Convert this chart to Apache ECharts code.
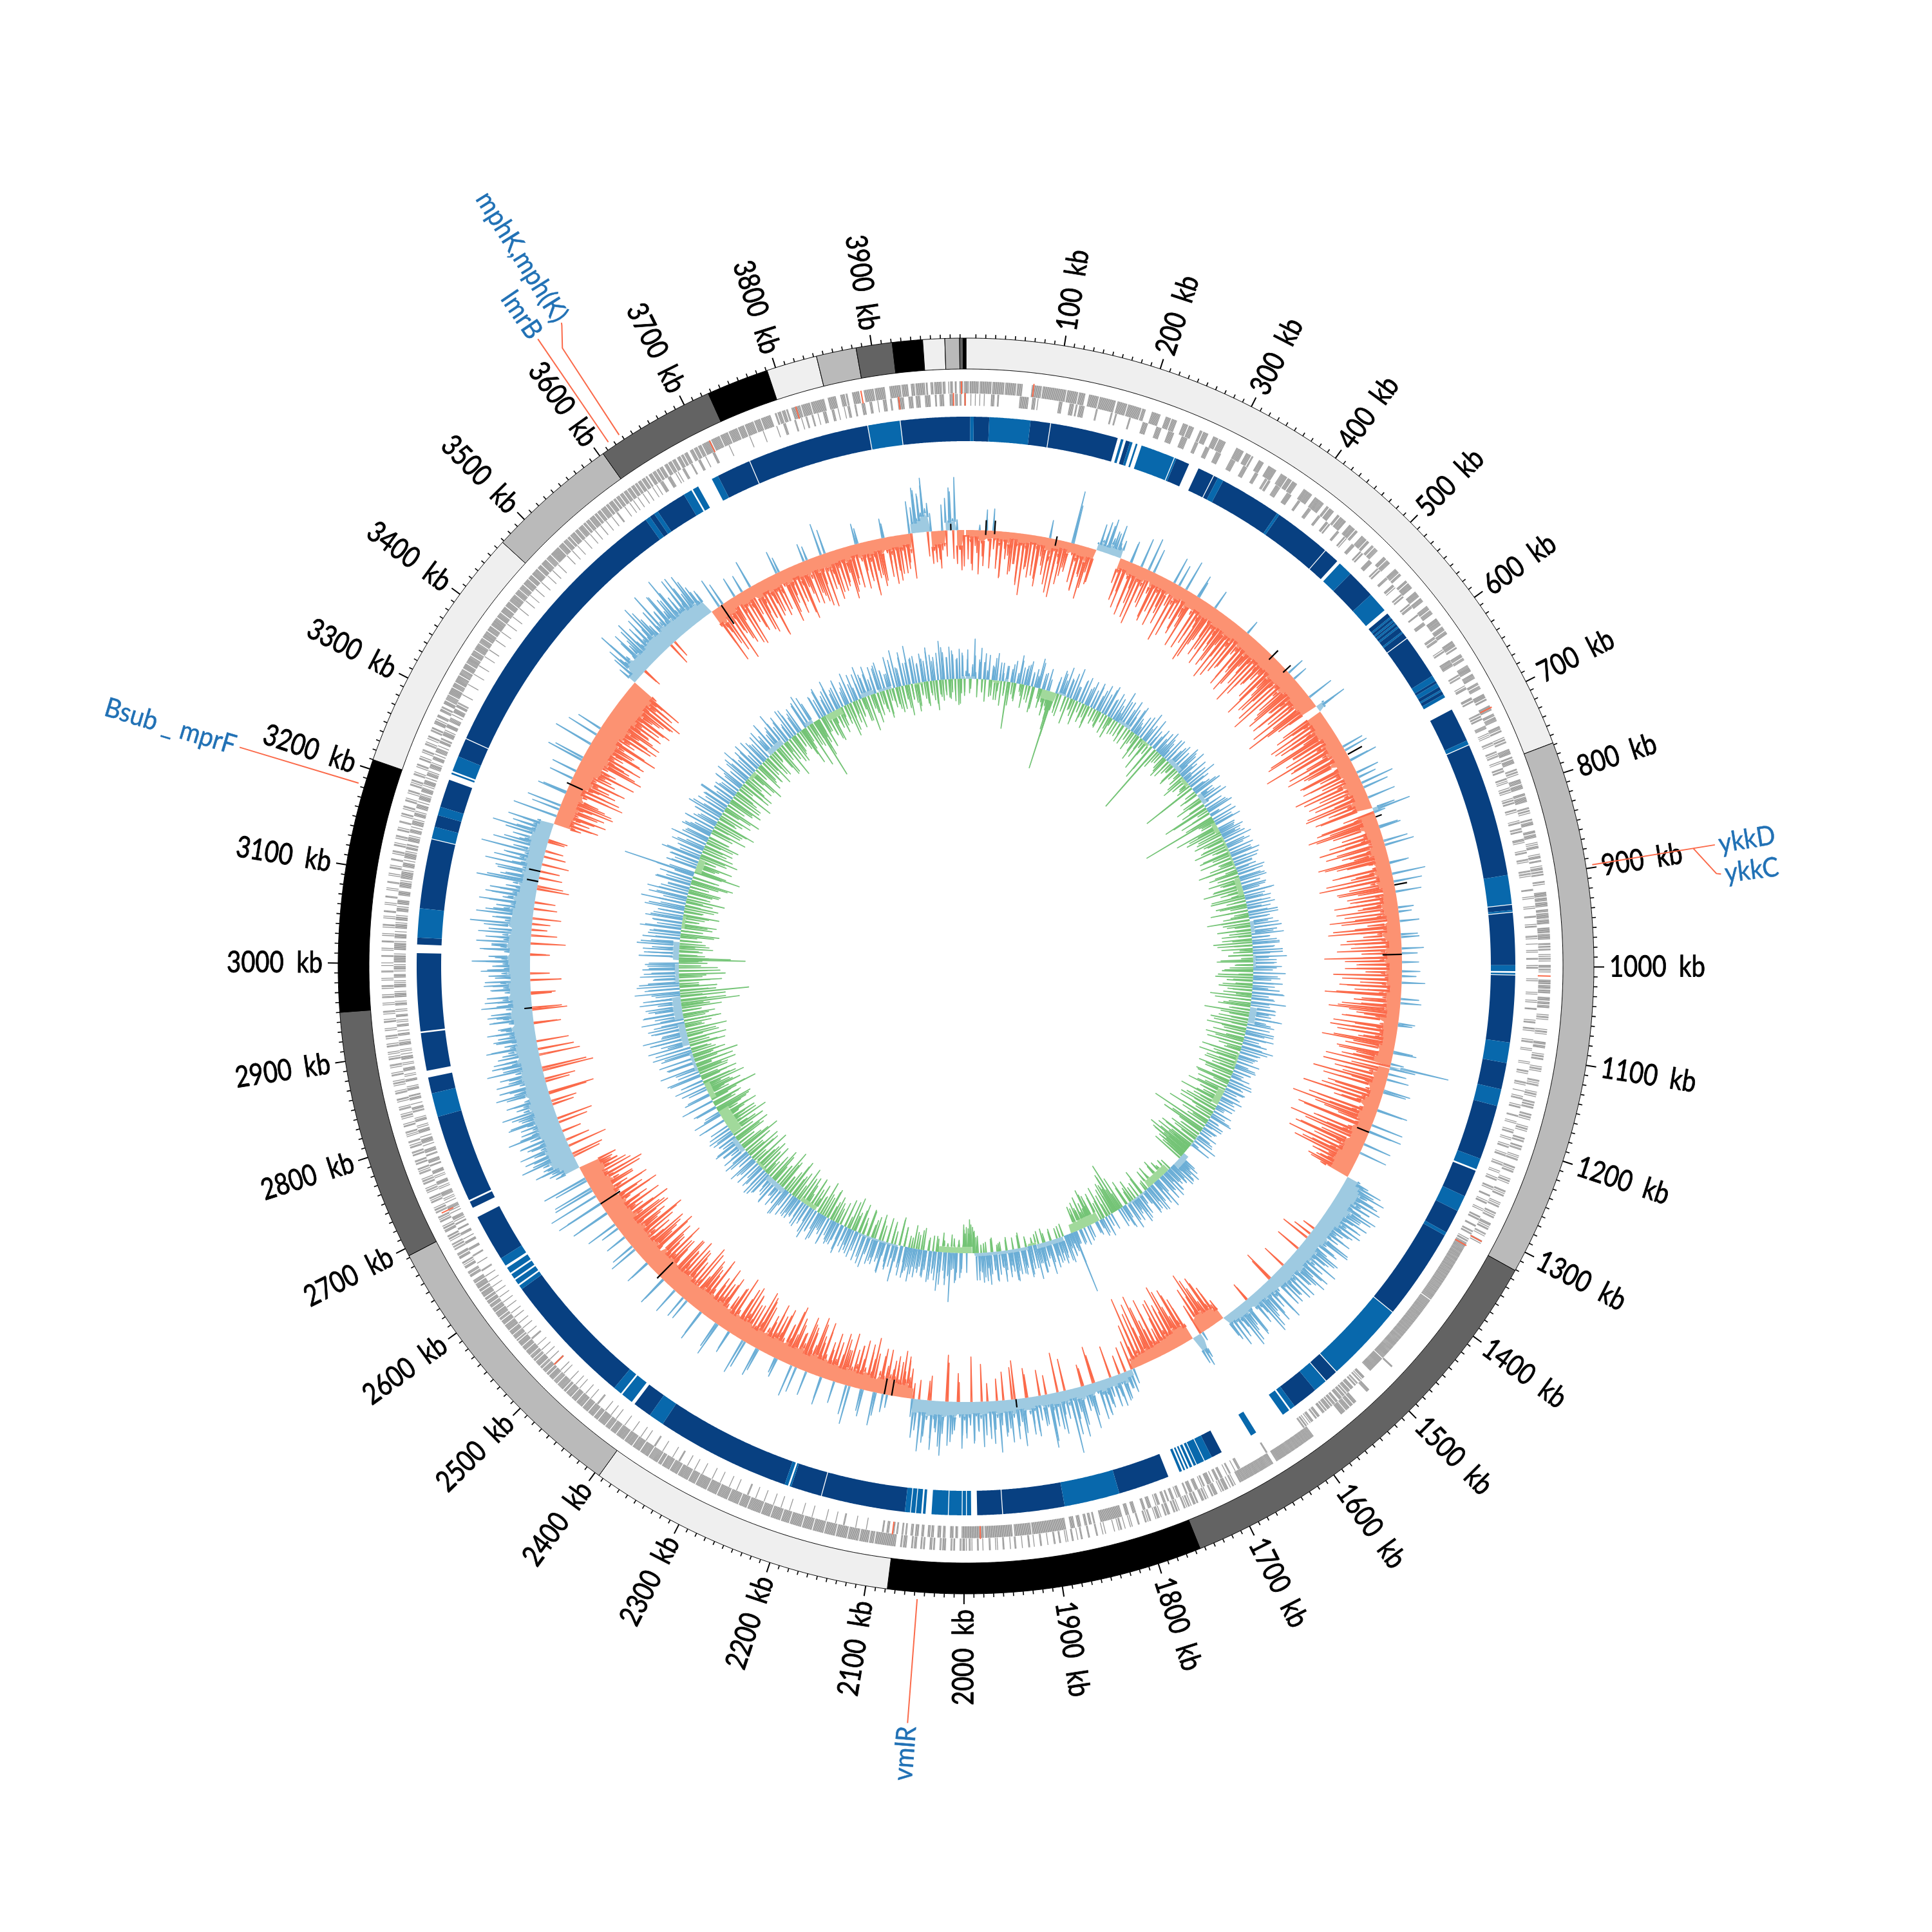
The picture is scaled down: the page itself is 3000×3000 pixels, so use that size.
<!DOCTYPE html>
<html><head><meta charset="utf-8"><style>html,body{margin:0;background:#fff}#c{width:3000px;height:3000px}</style>
<script src="https://cdn.jsdelivr.net/npm/echarts@6/dist/echarts.min.js"></script></head><body><div id="c"></div>
<script>
const genomeKb=3996;
const contigStart=[0,768,1321,1755,2078,2395,2692,2950,3210,3468,3604,3727,3791,3843,3884,3921,3952,3974.5,3989.5,3993];
const contigEnd=[768,1321,1755,2078,2395,2692,2950,3210,3468,3604,3727,3791,3843,3884,3921,3952,3974.5,3989.5,3993,3996];
const contigShade=['#efefef','#bababa','#636363','#000000','#efefef','#bababa','#636363','#000000','#efefef','#bababa','#636363','#000000','#efefef','#bababa','#636363','#000000','#efefef','#bababa','#636363','#000000'];
const majorTicks=[100,200,300,400,500,600,700,800,900,1000,1100,1200,1300,1400,1500,1600,1700,1800,1900,2000,2100,2200,2300,2400,2500,2600,2700,2800,2900,3000,3100,3200,3300,3400,3500,3600,3700,3800,3900];
// Gene occupancy, one string per 100 kb, one character per kb: 1 = a gene bar.
const genesOuter=[
"1110111111111101111111111111011111111111110111111111111011111100000000001111111111101111111111111111",
"1111111111011111111111101111111000011111111111011111111111111111100111111111110111111111111111011110",
"0000001111111111000000111111011111100000001111110111111000000011101111110000001111110111111110000000",
"0000001111111110001111110110000000111111000000111111111100000011111111011111011111100000000011111111",
"1110000111111111111000011101111110000011101111111100000111111110111000000111111101110000111011111000",
"0000001111011111000000001111110111000000011101111111000001111111001111100000011111011111000000111111",
"1110011111011110000000001111111011000000011110111000000111111110001111110000011101111000000111110110",
"0000011111100001110111110000001111011000000101101100000001111110001101111100000011011010000011111011",
"1110000011101111110000001101101000000110111100000011101111000001010111000000101110011000010111011011",
"0000001101000000001111101111011111000111011111101111100001111110111111000011011011000010101101000011",
"1011010000000011111011110111100001111011101110000000101101000000000010110100000000111011100000010110",
"1100000001011010000000001101011000000101101000001101101100000011011010000000101101000000011011000011",
"0110000001010110000000110101100000001011010000000011010110000000101011000000110101100000011101011000",
"0110100000110100000000000000000000000000000000000000000000000000000000000000000000000000000000000000",
"0000000000000000000000000000000000000000000000000000000000000000000000000000001100000000000000000000",
"0000000000000011110000000000000001111011110111110111111000000000000000000000000000000000000001111111",
"1111111111111111111111111111111111111111110000111111111111111111111111111111111111111111000001011001",
"0011110110100001111011000010110111000011011100101101011000001011011000011101100001011101000001101011",
"0000001100000010100000100011010000100000000010010000011000000011000000110001000011000010100000110000",
"1100000010000001100000010000110000001000000110000100000011000001010000011000000100001100000101100101",
"1101100000110110000011110110000011011100000110110000111011000001111011000001111111111111111111111101",
"1111011111111110111111111111011111111111101111111111110111111111111011111111111011111111111110111111",
"1110111111111110111111111101111111111111110111111111011111111111101111111111110111111111110111111111",
"1111011111111011111111111101111111110111111111011110111111111110111111111101111111110111111111101111",
"1111110111111101111110111111111011111011111110111111101111111101111110111111101110111111110111110111",
"1110111011111011101111110111011110111111011111011111101101111101111101111111011111011101111110111110",
"1111011110111011111101110111111011110000111011100001110101100001110111000011011011000101101100001110",
"1101000011010110000110110100000110101100000101101000011011010000011010110000110110000011011000011010",
"0110000010101100000110100000101101000011010000010110000011010000010110100000110100000101100000110100",
"1010000011010000010110000010100000011010000010110000001010000011010000001011000001010000001100000100",
"1000000110000010100000011000001010000001011000000101000011000000101000001100000010100000110000001010",
"0000110100000110000010110000011010000101100000110100000110000010110000101100000110100000101100000110",
"1011000001101000001011000001101000010110000011010001011000001101100001111010011100001110110001111011",
"1111011111111011111011111111011111110111111011111111101111110111111110111111011111111011111101111111",
"1110111111011111110111111011111111101111110111111011111110111110111111110111110111111101111110111111",
"1111101111110111110111011111101111011111101110111101111110111011110111111011101111101110111101111011",
"1101111011110111011110111101100111101111011101111001111011110111100111101110111100011110111101111011",
"1111111101111111111011111111101111111111011111110111111111101111111011111111111000001101111011110110",
"0001111111111011111111110111111111111111000011111111100000111110110000011111111000001111111111101111",
"1111111000001111111111110111111100011110111111111101100011101111111101110001011100110001111011"];
const genesInner=[
"0000010000100001000010000000111100011000000000000000000000001111111111000011110010000000000000000000",
"0000111100000000111110011001111110000000000000110000000000000001100011000000000000001100000000000000",
"1111110000000000111111000000001111111000000000111111100000000011110000000001111100000000111111000000",
"0000001111110000000000111110000000000111100000000011101110000000111111000000000111111000000000111000",
"0000000011110000000000111000000001110110000000000111000000011010000000011110000000011011000000000111",
"1100000000110110000000001110000000011101000000000110110000000001101110000000001100000000011110000000",
"0000000001110111000000000010110000000000111111110000000000011011000000000101110000000000111011000000",
"0000000011011011000000011110000010101000000110100000001101011000001010000011011000000011010100000101",
"1010000001011011000000110100000000010110000011011000000011101000000001011000000110100000000011011010",
"0000000000000110000001010000000010100000000110000000101100000000011010000010000001010000001100000010",
"1100000000000101000000000000101000000101000000110000000000010110000011010000000001011000000101000000",
"0000001010000000110100000000011010000001000001011000000101100000000110000010100000001011000001010000",
"0101100000010110000000101100000010100000101100000001101000000110000010110000001010000001101100000011",
"0000011011000001011011111111111111111111111111111111111111111111111111111111111111111111111111101111",
"1111111111111111111111111111111111111111111111111111111111111111111111111111111011111111111111111110",
"0000000011101011001101100111101111011011101111001110111011011110110111000011101100011101001011011000",
"0000000000000000000000000000000000000000000001100000000000000000000000000000000011100010000011001000",
"0011100111000100111110001101000011110001111001100000011101000111000110011100001110100000111100011100",
"0000001111000011110000111111111111111111111111100000011001110011100001111000111110000011111111111111",
"1111111111111111111111110111111111111111111100111111111111111111111111111111101111111111111111111111",
"1110000111001111000001110011110000111011100001110001111001110000110011000011001100001110001100000000",
"0000000001000000000001000000000000110000000010000000000100000000000000010000000000100000000000000100",
"0000000100000000100000000001000000000100000000110000000000001000000001000000000010000000001000000000",
"0010000000001000000001000000000110000000100000000000010000000001100000000001000000100000000001000000",
"0000100000000000100000010000000100000000001100000000100000001000000001000001000000010000000001000010",
"0000000110000001000000100000010000001000000001100000010000000100000010000000100000100000001000000100",
"0000100000010000001000000100000010000001100000000100000000110000001110000011100010000111000011000011",
"0010111100001001011110000100101001111100001010011110000101001111000001100111100001100111100001001111",
"1001000011110010100001110100000011011100010000111011000001110100000111000101000111100010100011110010",
"0101000011110100000111001000011100101000111000101000011101000011111010000111101010001111000101111010",
"0111111110100001111111101000111110010001111101001111010000111101001111100000111110000111111010011111",
"1110100011111001001111110100111011000111110100011110010011111010001111010001111100100111110100111110",
"0101111100100111101000111110100011110010011111001000111011000111110100011110001111100010011111001110",
"1100000000010000000000001000000000000100000000001000000000001000000001000000000000100000000001000000",
"0000100000000010000000000010000000000100000001000000001000000000100000000010000000100000000100000000",
"0000010000000100000001000000000100000000100000010000000100000001000000010000001100000000010000001000",
"0100000100000010000010000001000010000111100000011110000001001000001110000000011000000011100000010000",
"0000111000000000000000001000000000000000000000000100000000000000010000000000000001000000011100000000",
"0011000000100001100000110000010000011110000001110000100000010001110000011000000111100000111000000100",
"0001111000011000000111111100000111110001111100000111111000001100011111000000111100111001100011"];
const hitGenes=[[74,900],[708,900],[1010,898],[1311,898],[1323,880],[1982,880],[2080,880],[2508,880],[2717,890],[3707,898],[3808,898],[3881,898],[3921,880],[3982,880],[3991,898],[3995,880]];
const ringDark=[[3698,3738],[3739,3881],[3920,3996],[0,5],[9,27],[75,98],[99,178],[188,193],[250,266],[278,297],[298,303],[310,383],[386,453],[454,472],[493,527],[556,561],[563,566],[568,570],[572,575],[577,583],[585,592],[593,645],[652,655],[660,664],[666,670],[690,730],[736,893],[928,934],[937,998],[1010,1088],[1112,1143],[1163,1227],[1242,1274],[1293,1321],[1325,1432],[1528,1543],[1560,1590],[1690,1703],[1758,1818],[1883,1955],[1956,1985],[2069,2167],[2168,2204],[2212,2370],[2388,2410],[2440,2597],[2640,2695],[2707,2715],[2717,2820],[2848,2867],[2875,2919],[2921,3012],[3022,3030],[3064,3145],[3160,3174],[3184,3217],[3246,3268],[3269,3600],[3606,3612],[3617,3653]];
const ringMid=[[5,9],[27,75],[182,185],[193,196],[200,202],[207,247],[248,250],[303,310],[383,386],[476,493],[527,551],[561,563],[566,568],[570,572],[575,577],[583,585],[645,652],[655,660],[664,666],[670,674],[730,735],[893,927],[934,936],[998,1005],[1007,1009],[1088,1112],[1143,1163],[1227,1240],[1274,1293],[1321,1325],[1433,1527],[1544,1560],[1590,1596],[1598,1607],[1644,1651],[1703,1712],[1713,1722],[1723,1726],[1728,1731],[1733,1735],[1737,1739],[1741,1744],[1818,1883],[1992,1997],[1998,2002],[2003,2018],[2019,2038],[2045,2048],[2050,2056],[2057,2062],[2063,2069],[2204,2206],[2208,2212],[2370,2388],[2414,2428],[2430,2440],[2597,2602],[2604,2610],[2612,2618],[2620,2627],[2630,2640],[2820,2848],[3030,3064],[3146,3160],[3174,3184],[3224,3226],[3228,3246],[3600,3606],[3612,3617],[3653,3663],[3665,3672],[3690,3698],[3882,3919]];
// Signed departures from the track baseline, one row per 100 kb. Positive goes outward.
const outerTrack=[
[-10,-45,-18,-62,-12,-35,8,-20,-55,32,-16,-40,34,-14,-58,-22,-70,-15,-42,-24,-65,-12,-48,-20,-75,-18,-95,-22,-50,-16],
[-14,-62,-20,-78,-16,-44,-24,28,-35,-84,-18,-52,-26,-68,-14,-40,-22,82,-18,-60,-26,-72,-20,-48,-30,-64,-18,-56,12,42],
[18,48,12,55,20,38,14,50,16,28,-22,-58,-18,-76,30,-26,-84,-22,-62,46,-24,-92,-28,-54,-20,38,-30,-72,-22,-60],
[-26,-80,-22,-56,-30,42,-24,-96,-32,-66,-26,48,-22,-74,-34,-58,-28,36,-30,-88,-24,-62,-34,-102,-28,-70,30,-26,-82,-36],
[-30,-92,-36,-64,-28,-78,-34,-104,-30,-60,-38,-84,-26,-70,22,-34,-96,-30,-68,-40,-86,-32,-58,-36,-108,-30,-74,-38,-62,-32],
[-36,-80,-30,-110,-40,-66,-34,-92,-38,28,-32,-118,-42,-72,-36,-88,-30,-64,-44,-100,-34,-76,-38,42,-36,-122,-32,-70,14,50],
[12,-30,-84,-36,-62,-28,-96,-40,-70,-32,-112,-34,-76,-26,-58,-38,-130,-30,-90,-36,-66,38,-28,-104,-40,-72,44,-30,-86,-34],
[-32,-78,36,-28,-108,-38,-64,52,-30,-92,-34,-70,-26,-100,44,-36,-60,-30,-84,10,60,18,-34,-96,-28,-112,-36,-74,34,-30],
[-28,-68,-34,-102,-24,-76,46,-30,-58,-36,-110,-26,-82,-32,30,-28,-92,-34,-64,52,-26,-116,-36,-70,-30,-88,-24,40,-32,-72],
[-26,-98,-32,-62,24,-28,-84,-34,-108,-24,30,-30,-70,-26,-112,-36,-58,28,-30,-94,-24,-78,34,-32,-62,-28,-120,-34,26,-66],
[-24,-88,28,-32,-106,-26,-64,36,-30,-96,-22,-72,-34,-118,-28,-60,32,-26,-90,-30,-110,-24,-66,-36,-82,26,-28,-100,-32,-70],
[-26,-92,-32,-58,-24,-114,-30,-76,36,-28,-84,-34,-60,20,92,40,-22,-104,-30,-68,34,-26,-116,-32,-72,42,-28,-88,-24,-96],
[-30,-124,-36,-72,48,-28,-96,-38,-134,-32,-80,50,-26,-110,52,-34,-90,-40,-126,-30,44,-36,-104,-42,-78,-34,-118,-46,-92,-40],
[-44,-70,-42,-60,-38,-66,22,38,62,34,72,40,58,36,74,42,60,32,76,44,54,38,70,34,58,40,68,36,52,30],
[34,62,30,-20,36,70,32,50,-46,28,66,34,54,30,74,36,48,28,60,32,72,34,52,26,-38,30,64,28,50,32],
[26,58,-50,24,72,28,46,22,66,26,52,20,74,24,44,22,-30,18,62,24,48,20,70,22,42,18,58,16,36,-20],
[-28,-62,-34,-84,-30,-70,-38,-98,-34,-60,14,-30,40,52,30,-26,-72,-36,-92,-32,-66,-38,-104,-28,-76,-34,-88,-26,-60,-30],
[-24,-96,-28,-64,-22,-108,-26,-58,-20,-84,-24,-112,-18,-70,-16,-46,12,28,-40,22,44,16,50,20,34,-50,18,46,24,56],
[22,60,18,-58,24,70,20,40,-34,26,78,22,48,18,100,24,44,20,66,-62,22,52,26,84,20,46,24,-40,18,62],
[22,58,26,-46,24,74,20,42,-60,28,66,22,50,-44,24,80,26,44,20,58,-28,24,70,26,46,22,64,-70,24,56],
[28,72,24,-44,30,50,26,68,-72,30,84,26,48,28,76,-38,30,56,24,80,-30,26,60,28,-20,-32,-64,-28,-72,-24],
[-26,-62,-30,-40,-32,-70,28,-28,-58,-34,52,-26,-84,-30,-60,42,-34,-76,-28,-66,-36,60,-30,-82,-34,-54,-28,-78,34,-32],
[-34,-74,-30,-58,44,-36,-86,-32,-62,-38,-90,38,-34,-70,-30,-84,-40,-56,50,-36,-76,-32,-92,-38,-60,30,-34,-80,-40,-66],
[-36,-82,-32,-60,-38,46,-34,-78,-40,-90,-30,-64,56,-36,-74,-42,-86,-34,-62,36,-38,-92,-32,-70,-40,54,-36,-80,-44,-66],
[-40,-88,-36,-68,50,-42,-94,-38,-72,-44,-84,-36,34,-40,-98,-34,-66,-42,-80,42,-38,-92,-46,-70,-36,-86,48,-40,-76,-44],
[-42,-96,-38,-70,-46,-88,40,-36,-100,-44,-74,-40,-92,-36,46,-44,-82,-38,-104,-46,-68,34,-40,-90,-36,-78,-48,-98,50,-42],
[-44,-90,-38,-72,62,-46,-96,-40,-74,76,-36,-88,-44,80,-40,-70,-48,64,-42,-94,-36,-78,72,-44,-60,-50,-40,-62,30,48],
[42,68,46,-44,50,84,44,60,-62,48,78,42,56,40,72,-30,44,86,46,62,42,-56,48,74,44,58,40,82,46,-40],
[44,70,40,-72,46,82,42,58,-38,40,76,44,54,-80,42,86,38,60,44,72,-64,40,56,46,80,42,-50,38,66,44],
[40,74,44,56,-42,38,62,46,70,42,-54,40,78,36,52,44,68,-32,40,60,42,72,46,-48,38,64,44,76,40,58],
[42,90,44,64,-30,40,78,46,60,-54,42,70,44,82,38,-24,46,96,42,62,-44,40,74,46,58,36,86,-32,42,68],
[36,72,32,-50,38,96,30,60,-36,34,70,28,88,32,-42,36,62,30,100,34,-28,32,68,36,56,-30,34,92,30,50],
[30,72,26,-34,-60,-30,70,-38,-78,-32,-62,54,-36,-84,-30,-68,-40,46,-34,-92,-28,-60,-38,-74,38,-42,-86,-36,-66,-44],
[-46,-94,-50,58,-44,-100,-52,-76,-48,-92,-44,62,-54,-84,-46,-70,-50,-104,-42,40,-52,-88,-48,-78,-56,-96,-46,-72,-54,-90],
[-52,-82,-48,-98,-56,-74,-50,-90,-46,-104,-54,-78,-50,-92,-44,14,28,60,32,84,36,-30,30,70,34,52,28,78,32,62],
[36,72,34,88,38,60,32,-36,36,92,38,56,34,78,40,66,32,96,36,58,34,84,38,64,30,80,34,54,26,42],
[-28,-92,-34,-66,48,-24,-98,-30,-58,-26,-78,-20,32,-32,-88,-24,-54,-30,-72,-22,44,-28,-82,-34,-60,-22,-94,-28,-64,-30],
[-26,-68,-32,36,-24,-84,-30,-56,-28,-76,-22,-60,-34,-90,-26,-52,28,-30,-72,-24,-62,-32,-80,-26,50,-28,-58,-34,-76,-24],
[-28,-66,-22,-54,-30,-82,-26,-62,-20,-48,32,-28,-72,-24,-56,-32,-86,-26,-60,-22,-74,-30,30,-24,-62,-28,-50,-22,-70,-26],
[-24,-60,-20,-44,-30,-70,18,70,22,60,30,84,36,44,28,-30,-48,-26,-58,-30,-24,-40,15,60,18,82,16,-30,-62,-40]];
const outerBetween=[
[-30,-52,-24,-68,-40,18,-58,-28,-44,-72,-26,-36,-60,-48,-80,-34,-54,-66],
[-48,-66,-30,-58,-72,-40,-90,-36,-54,-46,60,-34,-70,-44,-82,-38,-52,20],
[30,44,26,36,22,-40,-66,-50,34,-72,-38,-84,-46,52,-60,-34,-78,-44],
[-60,-46,-72,-38,34,-84,-52,-66,-42,-90,26,-56,-76,-44,-94,-60,-50,-70],
[-70,-52,-88,-46,-64,-96,-54,-74,-42,-84,-60,-100,-48,-78,-56,-90,-66,-50],
[-60,-84,-52,-96,-70,-104,-58,24,-80,-100,-62,-90,-54,-108,-74,-88,-50,30],
[-70,-56,-100,-64,-88,-50,-118,-76,-92,-60,-84,34,-98,-66,-78,30,-90,-58],
[-90,-60,28,-96,-72,40,-84,-54,-104,-68,-92,36,-50,-88,-76,-100,30,-62],
[-84,-60,38,-94,-70,-52,-100,-66,26,-80,-56,-104,-72,44,-90,-58,-76,-64],
[-76,-54,-96,20,-68,-90,-50,-104,-62,26,-84,-72,-52,-100,24,-60,-88,-70],
[-70,-56,22,-92,-64,-84,-52,-100,28,-72,-60,-96,-78,-54,-88,22,-66,-104],
[-70,-50,-96,-64,30,-88,-56,-78,-102,-60,28,-84,-70,-54,-98,36,-76,-64],
[-90,-60,40,-110,-74,-96,-56,-120,36,-84,-66,-100,-70,-112,44,-86,-76,-104],
[-60,-54,-72,-48,30,52,44,66,50,60,48,70,54,46,64,52,58,44],
[50,44,68,-30,56,42,62,48,-40,54,70,46,58,50,66,44,52,60],
[42,-38,60,38,54,44,68,36,50,-24,58,40,64,34,48,30,44,-34],
[-50,-74,-44,-86,-60,-76,-50,32,46,-56,-82,-48,-94,-62,-70,-52,-84,-44],
[-72,-48,-88,-42,-98,-36,-60,-34,24,36,28,42,-30,34,48,30,40,52],
[40,-44,50,34,-28,60,38,72,44,-50,36,58,42,74,-30,48,38,54],
[42,-36,54,36,62,-50,44,56,38,-34,66,40,52,-58,44,60,36,48],
[52,-30,44,62,-60,50,70,42,58,-30,66,44,48,-24,-46,-58,-40,-54],
[-48,-54,20,-44,-70,36,-60,-50,-72,34,-46,-66,-58,46,-54,-70,-44,-62],
[-56,-46,34,-72,-52,-80,-44,-62,-74,40,-54,-66,-48,-84,-58,24,-70,-52],
[-66,-50,36,-70,-84,-54,44,-62,-76,-48,-80,30,-58,-72,-54,42,-68,-60],
[-72,-56,40,-84,-62,-76,-52,-90,36,-58,-70,-82,-54,-68,-86,40,-60,-74],
[-80,-58,-72,32,-90,-62,-84,-54,-70,38,-94,-60,-78,-66,-86,30,-72,-56],
[-76,-58,50,-84,-64,60,-80,-56,-70,66,-88,-62,54,-72,-60,-54,40,36],
[58,52,-50,64,74,56,-38,62,70,52,66,-46,60,78,54,68,-34,56],
[58,-60,66,52,74,-48,56,68,-70,60,76,54,64,-56,72,50,62,58],
[60,52,-36,68,56,64,-46,54,72,50,-38,62,58,70,54,-30,66,52],
[68,54,-24,72,60,84,52,-40,66,74,-28,56,88,62,-36,70,50,78],
[56,48,-40,80,52,66,-30,46,76,58,-34,50,84,44,-26,70,54,62],
[48,-44,-70,-54,-60,44,-72,-50,-80,-56,38,-68,-84,-48,-62,-76,40,-58],
[-72,-60,48,-88,-66,-78,-58,-92,-68,50,-84,-62,-74,-96,-60,-82,-70,-86],
[-68,-88,-62,-80,-94,-66,-84,-60,30,46,40,66,-24,56,44,68,40,50],
[56,48,76,44,66,-28,54,80,46,62,72,48,58,84,50,68,44,36],
[-60,-44,-80,36,-52,-70,-40,-84,-56,28,-66,-46,-76,-50,-62,-90,-42,-58],
[-50,-60,24,-70,-44,-64,-54,-80,-40,-68,22,-56,-72,-46,-84,38,-52,-66],
[-46,-60,-40,-72,-52,-68,24,-44,-62,-78,-48,-56,-66,22,-42,-74,-54,-60],
[-40,-54,50,40,66,56,72,-38,-50,-34,-44,40,50,66,-44,-52,-30,-56]];
const innerTrack=[
[12,45,8,-15,22,62,10,-28,30,48,-18,26,-34,14,38,-12,-24,20,-30,42,-16,28,-38,12,-22,24,-73,-20],
[20,-18,34,-28,16,44,-12,26,-36,30,-22,38,-14,22,-40,28,18,46,-16,-30,24,-20,-26,34,-24,-30,-60,-123],
[-28,26,-22,38,-34,24,46,-20,30,-42,28,-18,50,-26,22,-38,34,-16,42,-30,26,-20,40,-36,28,-14,36,-24],
[24,-18,44,-26,32,-14,48,-30,28,-20,42,-12,36,-24,14,52,10,-22,40,-16,30,46,-28,22,-18,38,-32,26],
[20,-16,34,-42,26,-20,48,-14,30,-24,44,-18,28,-60,22,36,-116,24,-30,18,42,-16,26,-22,38,-34,20,-14],
[26,-20,40,-14,32,-28,46,-18,36,-12,48,22,-30,14,42,-26,28,-16,50,-24,34,-88,20,30,-18,46,-22,28],
[16,-30,38,-22,44,10,-40,30,-74,34,-18,42,-50,16,36,-36,-119,-26,30,-24,42,-16,-34,28,-56,24,38,-42],
[22,-48,36,-28,44,-38,30,-54,26,-20,40,-44,34,-30,46,-52,22,-24,38,-40,28,-60,32,-18,44,-46,26,-34],
[34,-50,42,-28,30,-44,38,-62,26,-36,48,-20,32,-54,40,-30,24,-48,44,-26,36,-58,30,-22,46,-40,28,-66],
[36,-42,44,-24,30,-52,40,-34,50,-20,28,-46,38,-60,42,-28,34,-48,46,-30,26,-38,52,-18,36,-56,32,-26],
[44,-36,30,-48,50,-22,38,-58,28,-40,46,-26,34,-52,42,-30,48,-44,26,-64,36,-20,54,-34,30,-50,40,-28],
[40,-70,34,-30,52,-46,28,-58,42,-24,36,-62,44,-34,30,-50,46,-28,24,-44,38,-56,32,-36,42,-26,28,-60],
[30,-40,24,-62,36,-28,20,-50,34,-36,28,-56,18,-44,30,-30,22,-55,38,-24,26,-48,32,-34,20,-60,28,-38],
[34,-30,24,-66,18,-42,26,-52,14,-36,30,-58,22,-28,36,-72,16,-46,28,-34,12,-91,24,-56,18,-40,30,-32],
[22,-48,30,-26,40,-60,12,-38,-62,-40,-28,-72,-44,-64,-36,-48,-30,28,36,24,44,20,38,16,42,26,34,-18],
[30,-22,38,18,44,-26,28,36,-34,24,50,16,40,-20,32,46,-30,26,38,-14,42,22,-40,18,34,-24,28,44],
[20,-34,36,-18,28,44,-30,16,38,-52,24,-78,-36,-60,-40,-48,-30,26,-44,18,-36,32,-52,24,-28,14,-40,22],
[18,-46,-30,-58,20,-38,-24,-50,28,-34,-44,24,-26,-40,20,98,30,16,36,22,44,28,-20,34,42,24,-16,38],
[26,44,-18,34,52,22,-14,38,28,46,-20,30,54,24,-12,36,26,48,-16,32,42,22,-24,40,28,50,-18,34],
[24,42,-20,30,48,26,-14,36,-10,44,28,-22,34,50,24,-16,38,46,-12,28,-26,42,-34,-40,-28,-52,-38,30],
[-30,-44,24,38,-18,30,46,-22,26,76,34,-14,40,28,-30,50,32,-20,44,26,-24,38,48,-16,30,42,-34,26],
[36,-22,44,28,-36,52,30,-18,40,24,-30,46,34,-44,26,58,-20,36,-28,42,30,-38,22,48,-24,34,-40,28],
[30,-34,42,-20,28,50,-42,24,36,-26,44,-46,30,22,-30,38,-52,26,40,-18,32,-44,46,24,-36,28,-24,34],
[38,-40,26,-22,44,-48,30,-32,22,42,-54,28,-26,36,-44,50,-34,24,-50,32,-20,40,-46,26,-38,30,-56,36],
[28,-44,34,-30,40,-58,26,-36,46,-24,30,-48,38,-62,24,-34,42,-28,32,-54,20,-40,36,-26,44,-50,30,-36],
[34,-52,26,-34,42,-62,30,-24,46,-44,24,-56,36,-30,28,-48,40,-66,22,-38,34,-28,44,-50,26,-60,30,-36],
[36,-58,40,-32,26,-69,30,-44,-22,-54,34,-28,-40,-62,46,-32,24,-50,-26,-60,38,-36,-30,-48,52,-28,-44,-78],
[42,-34,-22,-56,30,-40,-26,-66,48,-44,36,-30,-58,-28,54,-46,34,-38,-62,60,-24,-50,44,-36,-70,56,-32,-42],
[50,-38,62,-26,40,-56,66,-32,44,-60,52,-24,70,-46,38,-64,48,-30,58,-42,36,-54,66,-34,44,-50,60,-28],
[42,-62,56,-34,-91,64,-40,46,-70,38,-107,70,-44,54,-58,66,-30,48,-66,40,-36,60,-72,42,-44,56,-60,48],
[52,-44,-30,-103,-46,62,-28,48,-36,56,-52,-24,66,-40,44,-34,58,-26,50,-60,42,-30,64,-48,38,-54,46,-22],
[58,-34,46,-56,40,-28,62,-46,38,-24,70,-42,36,-60,48,-30,64,-38,44,-50,34,-26,56,-44,40,-66,52,-36],
[30,112,40,-73,-40,48,-30,36,-56,44,-26,62,-44,34,-60,40,-28,52,-38,30,-46,58,-24,42,-52,36,-34,48],
[44,-36,30,-56,50,-24,38,-46,28,-64,42,-30,56,-38,32,-50,46,-26,36,-60,40,-22,52,-42,26,-54,34,-32],
[36,-48,28,-30,44,-60,30,-22,48,-38,26,-52,40,-28,34,-44,54,-24,30,-56,42,-20,36,-46,24,-32,46,-40],
[40,-30,32,-50,24,-26,46,-42,34,-18,52,-36,28,-48,38,-22,56,-60,30,-34,44,-26,22,-44,48,-30,36,-24],
[28,-32,40,-60,-36,-24,44,-30,52,-20,-40,34,-95,-48,-30,-22,38,-50,30,-26,46,-36,24,-44,36,-20,50,-30],
[26,-40,34,-16,44,-30,22,-52,36,-24,48,-34,28,-44,20,-26,40,-18,50,-38,30,-56,34,-22,24,-46,42,-28],
[38,-20,46,-34,30,-44,24,-18,50,-30,36,-26,58,-40,28,-36,44,-22,34,-48,60,-24,38,-30,42,-36,30,-20],
[44,-26,32,-38,52,-18,40,-30,36,-46,28,-22,60,-32,42,-24,34,-28,50,-20,38,-34,30,-40,46,-22,36,-26]];
const innerBetween=[
[30,-22,18,36,-14,26,-20,40,12,-26,22,34,-30,16,28,-18,24,-36],
[28,-24,14,36,-18,24,32,-26,20,-34,16,40,-20,26,-40,18,-44,-70],
[18,-30,34,12,-24,28,40,-16,22,-30,36,14,-22,30,-28,20,42,-18],
[34,-24,20,42,-18,30,-34,16,26,-22,38,12,-28,24,34,-16,44,-20],
[14,-28,38,-34,22,-50,30,16,-44,28,-24,36,-18,32,14,-26,40,-30],
[34,-14,24,-32,40,18,-22,30,-40,12,36,-18,26,-60,22,40,-30,20],
[28,-44,34,-26,20,-60,36,-30,14,-46,40,-22,30,-70,-50,26,-38,32],
[30,-34,24,-42,38,-26,18,-50,34,-30,42,-22,28,-48,20,-36,40,-28],
[40,-32,24,-46,36,-24,44,-52,28,-18,38,-42,22,-34,46,-28,32,-44],
[28,-36,48,-22,34,-46,26,-30,42,-54,32,-20,46,-38,24,-50,36,-28],
[36,-44,26,-54,42,-30,32,-46,24,-38,50,-24,34,-56,28,-42,38,-32],
[30,-44,48,-26,36,-52,24,-38,44,-30,34,-60,28,-40,50,-22,32,-48],
[26,-34,18,-48,32,-24,28,-44,16,-30,36,-52,22,-26,30,-46,24,-32],
[20,-40,28,-30,14,-60,24,-36,32,-50,18,-26,28,-44,22,-70,16,-34],
[28,-40,20,-52,34,-30,-54,-34,-60,-42,-38,-50,22,30,40,18,32,24],
[24,36,-18,30,42,-26,20,34,-32,28,44,-16,38,22,-28,30,40,-20],
[26,-24,32,-40,22,34,-26,30,-64,-44,-52,-34,-20,24,-30,28,-46,18],
[-38,-50,-28,24,-44,-30,22,-36,20,50,24,34,18,40,26,-18,36,28],
[34,-14,40,26,-22,46,30,-16,36,24,44,-12,28,40,-20,34,48,26],
[34,-16,40,24,-12,46,28,-20,36,44,-14,30,42,-24,-32,-44,-30,-40],
[-36,30,-20,42,24,-28,36,50,-18,30,60,-24,34,44,-20,28,40,-30],
[30,-26,40,-16,36,48,-30,26,-40,44,22,-34,38,-22,50,28,-30,40],
[36,-28,24,-40,46,-18,30,-36,42,-24,34,-44,22,-30,40,-20,36,-32],
[32,-30,40,-44,24,-36,46,-28,34,-20,42,-48,26,-34,38,-42,28,-24],
[36,-36,26,-50,44,-24,30,-42,22,-34,40,-46,28,-30,38,-20,46,-38],
[40,-42,28,-24,36,-52,22,-30,44,-38,26,-50,34,-28,40,-44,30,-22],
[28,-46,36,-24,-54,-36,44,-30,-48,28,-40,-56,34,-24,-44,40,-34,-60],
[36,-28,-44,40,-34,-54,26,-42,50,-30,-48,36,-24,-60,46,-38,-28,-52],
[44,-32,56,-44,34,-28,60,-50,40,-36,54,-26,48,-58,36,-40,62,-30],
[52,-44,36,-70,58,-34,44,-56,48,-30,62,-48,38,-42,54,-64,46,-34],
[46,-36,-80,-40,54,-30,42,-46,60,-28,38,-52,48,-34,56,-40,44,-26],
[50,-40,36,-30,56,-52,42,-26,60,-36,46,-48,34,-30,54,-58,40,-42],
[60,-44,-50,40,-36,46,-28,54,-40,36,-50,44,-30,52,-44,38,-32,42],
[36,-30,46,-44,32,-52,40,-26,50,-36,28,-46,42,-30,52,-40,34,-48],
[30,-38,42,-24,34,-50,28,-36,46,-28,38,-44,32,-22,48,-36,26,-42],
[34,-24,42,-38,28,-20,44,-50,32,-28,40,-18,36,-42,26,-34,46,-22],
[34,-44,-30,40,-70,-36,46,-28,-60,-40,36,-26,42,-34,30,-48,38,-22],
[32,-30,40,-22,28,-44,34,-20,42,-28,24,-38,36,-18,46,-30,26,-36],
[42,-28,32,-38,24,-20,44,-34,30,-28,52,-36,34,-24,40,-44,28,-18],
[36,-34,46,-22,30,-36,42,-26,50,-18,34,-30,44,-24,32,-38,40,-20]];
// Solid fill zones of the inner track: start kb, end kb, signed depth.
const innerFills=[[0,20,8],[3985,3996,8],[60,75,-8],[85,95,8],[170,205,-28],[205,225,6],[355,385,10],[420,440,-8],[495,530,15],[545,565,-12],[595,620,14],[665,690,-15],[700,780,-6],[800,840,-18],[900,925,12],[975,1000,8],[1090,1125,22],[1195,1230,-6],[1285,1320,-22],[1400,1430,4],[1450,1485,20],[1500,1560,-25],[1570,1620,6],[1690,1760,-30],[1780,1840,14],[1840,1860,-8],[1860,1980,10],[1985,2060,-20],[2150,2240,6],[2350,2390,-14],[2430,2480,16],[2490,2520,-8],[2555,2590,15],[2600,2660,-35],[2690,2730,-18],[2760,2800,10],[2820,2870,22],[2880,2930,28],[2960,3000,12],[3010,3050,20],[3080,3110,-10],[3210,3240,-22],[3450,3470,-12],[3520,3560,18],[3620,3640,12],[3670,3710,-22],[3760,3790,14],[3800,3830,8],[3880,3900,-5]];
const blackMarks=[[3974,0,10],[29,-7,16],[42,-5,16],[133,-10,5],[496,-8,12],[524,-6,10],[677,1,26],[777,0,10],[880,0,20],[982,-30,0],[1248,-20,0],[1925,0,13],[2107,-25,0],[2118,-25,0],[2494,-30,5],[2630,-36,0],[2936,0,12],[3121,0,18],[3136,0,18],[3271,-22,5],[3617,-35,0]];
const calloutNames=['ykkD','ykkC','mphK,mph(K)','lmrB','Bsub _ mprF','vmlR'];
const calloutPaths=[[[897,985],[897,1178]],[[897,1144],[921,1174],[922,1181]],[[3628,985],[3628,1146],[3638,1176],[3639,1180]],[[3615,985],[3615,1179]],[[3183,985],[3183,1178]],[[2047,986],[2047,1179]]];
const calloutTextAt=[[897,1184],[922,1187],[3640,1184],[3615,1184],[3183,1185],[2047,1184]];

const R={ringIn:927,ringOut:975,tickMinor:981,tickMajor:991,labelAt:999,gOutIn:889,gOutOut:908,gInIn:870,gInOut:888.5,blueIn:815,blueOut:853,outerBase:677,innerBase:446};
const chart=echarts.init(document.getElementById('c'),null,{renderer:'canvas',width:3000,height:3000});
function band(api,a0,a1,r0,r1,stepKb){
  const n=Math.max(1,Math.ceil((a1-a0)/stepKb)),p=[];
  for(let i=0;i<=n;i++)p.push(api.coord([r1,a0+(a1-a0)*i/n]));
  for(let i=n;i>=0;i--)p.push(api.coord([r0,a0+(a1-a0)*i/n]));
  return p;
}
function mergeRows(rows,between){
  const pts=[];
  const add=(row,ri,off)=>row.forEach((v,j)=>{const w=Math.min(100,genomeKb-ri*100);pts.push([ri*100+w*(j+off)/row.length,v]);});
  rows.forEach((row,ri)=>{add(row,ri,0);add(between[ri],ri,0.5);});
  return pts.sort((a,b)=>a[0]-b[0]);
}
function bodyLevels(pts,sign){
  const n=pts.length,out=new Array(n).fill(0);
  for(let i=0;i<n;i++){
    let c=0,m=Infinity;
    for(let j=i-2;j<=i+2;j++){const q=pts[(j+n)%n][1];if(q*sign>0){c++;m=Math.min(m,Math.abs(q));}}
    out[i]=c>=3?m*0.8:0;
  }
  return out;
}
function bodyRuns(pts,body,sign){
  const runs=[];let cur=null;
  pts.forEach((p,i)=>{
    if(body[i]>0){if(!cur){cur=[[p[0],0]];runs.push(cur);}cur.push([p[0],sign*body[i]]);}
    else if(cur){cur.push([p[0],0]);cur=null;}
  });
  return runs;
}
function polyFill(runs,base,fill,z){
  return {type:'custom',coordinateSystem:'polar',z,silent:true,animation:false,data:runs.map((_,i)=>[i]),
    renderItem(p,api){
      const r=runs[p.dataIndex];
      const top=r.map(q=>api.coord([base+q[1],q[0]]));
      const back=r.slice().reverse().map(q=>api.coord([base,q[0]]));
      return {type:'polygon',shape:{points:top.concat(back)},style:{fill,stroke:null}};
    }};
}
function spikes(list,base,color,z){
  return {type:'custom',coordinateSystem:'polar',z,silent:true,animation:false,data:list.map((_,i)=>[i]),
    renderItem(p,api){
      const s=list[p.dataIndex];
      return {type:'polyline',shape:{points:[api.coord([base+s[2],s[0]-0.9]),api.coord([base+s[1],s[0]]),api.coord([base+s[2],s[0]+0.9])]},
        style:{fill:null,stroke:color,lineWidth:1.6,lineJoin:'round'}};
    }};
}
const outerPts=mergeRows(outerTrack,outerBetween);
const outerNeg=bodyLevels(outerPts,-1),outerPos=bodyLevels(outerPts,1);
const spikeOf=(pts,startFn,sign)=>pts.map((q,i)=>[q[0],q[1],startFn(i,q)]).filter(q=>q[1]*sign>0&&Math.abs(q[1])>Math.abs(q[2]));
const outerBlue=spikeOf(outerPts,i=>outerPos[i],1),outerRed=spikeOf(outerPts,i=>-outerNeg[i],-1);
const innerPts=mergeRows(innerTrack,innerBetween);
const zoneAt=(a,s)=>{for(const z of innerFills)if(a>=z[0]&&a<=z[1]&&z[2]*s>0)return z[2];return 0;};
const innerBlue=spikeOf(innerPts,(i,q)=>zoneAt(q[0],1)*0.5,1),innerGreen=spikeOf(innerPts,(i,q)=>zoneAt(q[0],-1)*0.5,-1);
const zoneRuns=s=>innerFills.filter(z=>z[2]*s>0).map(z=>{
  const inside=innerPts.filter(q=>q[0]>=z[0]&&q[0]<=z[1]).map(q=>[q[0],s*(q[1]*s>0?Math.min(Math.abs(z[2]),Math.abs(q[1])):Math.abs(z[2])*0.45)]);
  return [[z[0],0],...inside,[z[1],0]];
});
const bandSeries=(list,r0,r1,fillFn,z,extra)=>({type:'custom',coordinateSystem:'polar',z:z||2,silent:true,animation:false,
  data:list,renderItem(params,api){
    const d=list[params.dataIndex];
    return {type:'polygon',shape:{points:band(api,d[0],d[1],r0,r1,1.5)},style:Object.assign({fill:fillFn(d,params.dataIndex)},extra||{})};
  }});
const maskBars=rows=>{const out=[];rows.forEach((s,ri)=>{const w=Math.min(100,genomeKb-ri*100)/s.length;for(let j=0;j<s.length;j++)if(s[j]==='1')out.push([ri*100+j*w,ri*100+(j+0.92)*w]);});return out;};
const minorTicks=[];for(let k=10;k<genomeKb;k+=10)if(k%100!==0)minorTicks.push([k]);
function radialText(x,y,kb,text,fill,font,sx,sw){
  const th=kb/genomeKb*360;const right=th<180;
  const rot=-(right?th-90:th+90)*Math.PI/180;
  return {type:'text',x,y,rotation:rot,scaleX:sx,scaleY:1,style:{x:0,y:0,text,fill,font,stroke:fill,lineWidth:sw,align:right?'left':'right',verticalAlign:'middle'}};
}
const series=[
  bandSeries(contigStart.map((s,i)=>[s,contigEnd[i]]),R.ringIn,R.ringOut,(d,i)=>contigShade[i],2,{stroke:'#000',lineWidth:1}),
  bandSeries(maskBars(genesOuter),R.gOutIn,R.gOutOut,()=>'#989898'),
  bandSeries(maskBars(genesInner),R.gInIn,R.gInOut,()=>'#989898'),
  {type:'custom',coordinateSystem:'polar',z:3,silent:true,animation:false,data:hitGenes,renderItem(p,api){
    const d=hitGenes[p.dataIndex];
    return {type:'polyline',shape:{points:[api.coord([d[1]-10,d[0]]),api.coord([d[1]+10,d[0]])]},style:{fill:null,stroke:'#fb6a4a',lineWidth:2}};}},
  bandSeries(ringDark,R.blueIn,R.blueOut,()=>'#084081'),
  bandSeries(ringMid,R.blueIn,R.blueOut,()=>'#0868ac'),
  polyFill(bodyRuns(outerPts,outerNeg,-1),R.outerBase,'#fc9272',2),
  polyFill(bodyRuns(outerPts,outerPos,1),R.outerBase,'#9ecae1',2),
  polyFill(zoneRuns(1),R.innerBase,'#9ecae1',2),
  polyFill(zoneRuns(-1),R.innerBase,'#a1d99b',2),
  spikes(outerRed,R.outerBase,'#fb6a4a',3),
  spikes(outerBlue,R.outerBase,'#6baed6',4),
  spikes(innerBlue,R.innerBase,'#6baed6',3),
  spikes(innerGreen,R.innerBase,'#74c476',4),
  {type:'custom',coordinateSystem:'polar',z:6,silent:true,animation:false,data:blackMarks,renderItem(p,api){
    const d=blackMarks[p.dataIndex];
    return {type:'polyline',shape:{points:[api.coord([R.outerBase+d[1],d[0]]),api.coord([R.outerBase+d[2],d[0]])]},style:{fill:null,stroke:'#000',lineWidth:2.2}};}},
  {type:'custom',coordinateSystem:'polar',z:3,silent:true,animation:false,data:minorTicks,renderItem(p,api){
    const k=api.value(0);
    return {type:'polyline',shape:{points:[api.coord([R.ringOut,k]),api.coord([R.tickMinor,k])]},style:{fill:null,stroke:'#000',lineWidth:1.6}};}},
  {type:'custom',coordinateSystem:'polar',z:3,silent:true,animation:false,data:majorTicks.map(k=>[k]),renderItem(p,api){
    const k=api.value(0);
    return {type:'polyline',shape:{points:[api.coord([R.ringOut,k]),api.coord([R.tickMajor,k])]},style:{fill:null,stroke:'#000',lineWidth:2}};}},
  {type:'custom',coordinateSystem:'polar',z:7,silent:true,animation:false,data:majorTicks.map(k=>[k]),renderItem(p,api){
    const k=api.value(0);const [x,y]=api.coord([R.labelAt,k]);return radialText(x,y,k,k+'  kb','#000','46px Lato',0.83,0.9);}},
  {type:'custom',coordinateSystem:'polar',z:7,silent:true,animation:false,data:calloutPaths.map((_,i)=>[i]),renderItem(p,api){
    return {type:'polyline',shape:{points:calloutPaths[p.dataIndex].map(q=>api.coord([q[1],q[0]]))},style:{fill:null,stroke:'#fb6a4a',lineWidth:2}};}},
  {type:'custom',coordinateSystem:'polar',z:7,silent:true,animation:false,data:calloutNames.map((_,i)=>[i]),renderItem(p,api){
    const q=calloutTextAt[p.dataIndex];const [x,y]=api.coord([q[1],q[0]]);return radialText(x,y,q[0],calloutNames[p.dataIndex],'#2171b5','42px Lato',0.92,0.5);}}
];
chart.setOption({animation:false,backgroundColor:'#fff',
  polar:{center:[1500,1500],radius:1400},
  angleAxis:{type:'value',min:0,max:genomeKb,startAngle:90,clockwise:true,show:false},
  radiusAxis:{type:'value',min:0,max:1400,show:false},
  series});
</script></body></html>
